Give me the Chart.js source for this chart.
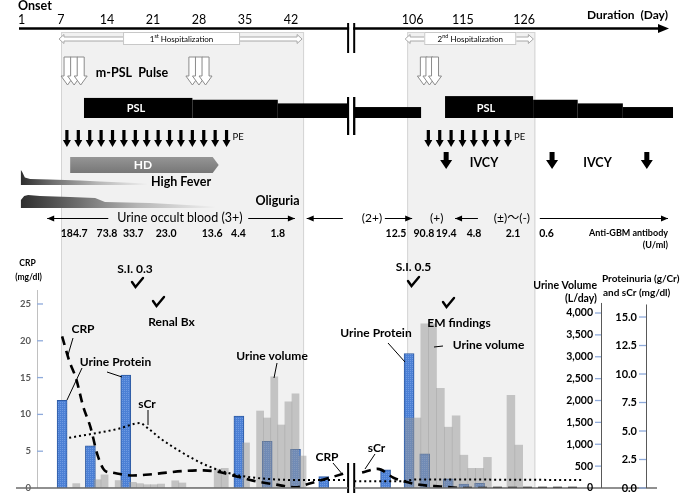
<!DOCTYPE html>
<html><head><meta charset="utf-8">
<script src="https://cdn.jsdelivr.net/npm/chart.js@4.4.1/dist/chart.umd.min.js"></script>
<style>html,body{margin:0;padding:0;background:#fff;}#wrap{width:685px;height:494px;}</style>
</head><body><div id="wrap"><canvas id="c" width="685" height="494"></canvas></div>
<script>
// ---------- top timeline (days) ----------
const timelineDays1 = [1, 7, 14, 21, 28, 35, 42];
const timelineDays2 = [106, 115, 126];
const hospitalizations = [[7, 44], [105, 128]];
const hospLabels = [['1', 'st', ' Hospitalization'], ['2', 'nd', ' Hospitalization']];
const axisBreak = [50.7, 95.5];               // last day before / first day after the break
const mpslPulseDays1 = [[8, 9, 10], [27, 28, 29]];
const mpslPulseDays2 = [[108, 109, 110]];
const pslSteps1 = [[10.5, 27, 55], [27, 40, 50], [40, 50.7, 40]];       // [from, to, dose mg]
const pslSteps2 = [[95.5, 107.5, 30], [111.8, 127.6, 60], [127.6, 135.6, 50], [135.6, 143.7, 40], [143.7, 152.7, 30]];
const peSpan1 = [7.9, 32.2], peCount1 = 15;
const peSpan2 = [108.8, 123.1], peCount2 = 8;
const ivcyDays = [112, 131, 148];
const hdSpan = [8.4, 31];
const feverDays = [0.9, 1.1, 1.5, 2.3, 5.3, 9.9, 12.9, 20.1];
const feverLevel = [15, 13, 7.5, 6, 5.5, 4.5, 3.5, 1.5];
const oliguriaDays = [0.9, 1.4, 2.0, 3.8, 8.4, 12.2, 13.7, 20.5, 30.4];
const oliguriaLevel = [8, 12, 13, 12, 11, 10, 6, 5, 1.5];
const occultTexts = [['Urine occult blood (3+)', 25.1, 1], ['(2+)', 98.7, 2], ['(+)', 110.3, 2], ['(±)〜(-)', 123.8, 2]];
const occultArrows = [[14.2, 4.9, 1], [35.5, 42.6, 1], [49.9, 44.4, 1], [101, 105.9, 2], [117.7, 113.6, 2], [128.8, 151.8, 2]];
const antiGbmDays1 = [9, 14, 18, 23, 30, 34, 40];
const antiGbm1 = [184.7, 73.8, 33.7, 23.0, 13.6, 4.4, 1.8];
const antiGbmDays2 = [103, 108, 112, 117, 124, 130];
const antiGbm2 = [12.5, 90.8, 19.4, 4.8, 2.1, 0.6];

// ---------- lower chart ----------
const urineVolDays1 = [9, 12, 13, 15, 17, 18, 19, 20, 21, 23, 24, 29, 30, 33, 35, 36, 37, 38, 39, 40, 41];
const urineVol1 = [100, 190, 300, 170, 130, 100, 75, 75, 90, 165, 115, 430, 450, 1030, 1760, 1600, 2540, 1440, 1970, 2150, 730];
const urineVolDays2 = [106, 107, 108, 109, 110, 111, 112, 113, 114, 115, 116, 119, 120];
const urineVol2 = [1600, 1600, 3750, 3750, 2280, 1390, 1650, 750, 450, 450, 700, 2120, 980];
const proteinDays1 = [7, 11, 16, 32, 36, 40, 44];
const protein1 = [7.7, 3.7, 9.9, 6.3, 4.1, 3.4, 1.0];
const proteinDays2 = [103, 106, 108, 111, 113, 115];
const protein2 = [1.6, 11.8, 3.0, 0.8, 0.35, 0.4];
const crpDays1 = [7, 8, 9, 10, 11, 12, 13, 14, 17, 20, 24, 27, 29, 32, 34, 37, 40, 42, 47];
const crp1 = [20.6, 17.3, 14.8, 11.0, 8.3, 4.5, 2.4, 2.1, 1.7, 1.9, 2.3, 2.4, 2.2, 1.5, 1.0, 0.5, 0.1, 0.6, 2.0];
const crpDays2 = [100, 102, 104, 107, 110, 113, 128];
const crp2 = [2.1, 2.6, 1.4, 0.5, 0.2, 0, 0];
const scrDays1 = [8, 15, 18, 19, 21, 24, 27, 30, 33, 36, 40, 47];
const scr1 = [4.4, 5.2, 5.7, 5.3, 4.3, 3.1, 2.1, 1.4, 1.0, 0.8, 0.7, 0.7];
const scrDays2 = [99, 105, 107, 128];
const scr2 = [0.6, 0.6, 0.75, 0.7];
const crpTicks = [0, 5, 10, 15, 20, 25];
const urineTicks = [0, 500, 1000, 1500, 2000, 2500, 3000, 3500, 4000];
const proteinTicks = [0, 2.5, 5, 7.5, 10, 12.5, 15];

const FONT = "Lato, 'Liberation Sans', 'Noto Sans CJK JP', sans-serif";
function pts(xs, ys) { return xs.map((x, i) => ({ x: x, y: ys[i] })); }
function txt(ctx, s, x, y, o) {
  o = o || {};
  ctx.save();
  ctx.font = (o.bold ? 'bold ' : '') + (o.size || 12) + 'px ' + FONT;
  ctx.fillStyle = o.color || '#000';
  ctx.textAlign = o.align || 'center';
  ctx.textBaseline = 'middle';
  ctx.fillText(s, x, y);
  ctx.restore();
}
function line(ctx, x0, y0, x1, y1, col, w) {
  ctx.save(); ctx.strokeStyle = col || '#000'; ctx.lineWidth = w || 1;
  ctx.beginPath(); ctx.moveTo(x0, y0); ctx.lineTo(x1, y1); ctx.stroke(); ctx.restore();
}
function downArrow(ctx, cx, y0, y1, sw, hw, hl, fill, stroke) {
  ctx.save(); ctx.beginPath();
  ctx.moveTo(cx - sw / 2, y0); ctx.lineTo(cx + sw / 2, y0);
  ctx.lineTo(cx + sw / 2, y1 - hl); ctx.lineTo(cx + hw / 2, y1 - hl);
  ctx.lineTo(cx, y1); ctx.lineTo(cx - hw / 2, y1 - hl);
  ctx.lineTo(cx - sw / 2, y1 - hl); ctx.closePath();
  if (fill) { ctx.fillStyle = fill; ctx.fill(); }
  if (stroke) { ctx.strokeStyle = stroke; ctx.lineWidth = 1; ctx.stroke(); }
  ctx.restore();
}
function lineArrow(ctx, x0, x1, y) {
  line(ctx, x0, y, x1, y, '#000', 1);
  const d = x1 > x0 ? 1 : -1;
  ctx.save(); ctx.fillStyle = '#000'; ctx.beginPath();
  ctx.moveTo(x1, y); ctx.lineTo(x1 - d * 7, y - 3); ctx.lineTo(x1 - d * 7, y + 3); ctx.closePath(); ctx.fill(); ctx.restore();
}
function check(ctx, x, y) {
  ctx.save(); ctx.strokeStyle = '#000'; ctx.lineWidth = 2.4; ctx.lineCap = 'round'; ctx.beginPath();
  ctx.moveTo(x - 5, y - 1); ctx.lineTo(x - 1.5, y + 4); ctx.lineTo(x + 6, y - 5); ctx.stroke(); ctx.restore();
}
function profileShape(ctx, xs, levels, bottom, c0, c1) {
  const g = ctx.createLinearGradient(xs[0], 0, xs[xs.length - 1], 0);
  g.addColorStop(0, '#2e2e2e'); g.addColorStop(c0, '#6e6e6e'); g.addColorStop(c1, '#b5b5b5'); g.addColorStop(1, '#f0f0f0');
  ctx.save(); ctx.fillStyle = g; ctx.beginPath();
  ctx.moveTo(xs[0], bottom);
  xs.forEach((x, i) => ctx.lineTo(x, bottom - levels[i]));
  ctx.lineTo(xs[xs.length - 1], bottom); ctx.closePath(); ctx.fill(); ctx.restore();
}

const canvas = document.getElementById('c');
const mctx = canvas.getContext('2d');
function makePattern() {
  const p = document.createElement('canvas'); p.width = 2; p.height = 2;
  const g = p.getContext('2d');
  g.fillStyle = '#4c80d5'; g.fillRect(0, 0, 2, 2);
  g.fillStyle = '#6e9ae2'; g.fillRect(0, 0, 1, 1);
  return mctx.createPattern(p, 'repeat');
}
const bluePattern = makePattern();

const BASE = 488;
const drawPlugin = {
  id: 'clinical',
  beforeDatasetsDraw(c) {
    const ctx = c.ctx;
    hospitalizations.forEach((h, i) => {
      const s = c.scales[i === 0 ? 'xt1' : 'xt2'];
      const a = s.getPixelForValue(h[0]), b = s.getPixelForValue(h[1]);
      ctx.save(); ctx.fillStyle = '#f1f1f1'; ctx.fillRect(a, 32, b - a, BASE - 32);
      ctx.strokeStyle = '#d4d4d4'; ctx.lineWidth = 1; ctx.strokeRect(a + 0.5, 32.5, b - a - 1, BASE - 33); ctx.restore();
    });
  },
  afterDatasetsDraw(c) {
    const ctx = c.ctx;
    const t1 = c.scales.xt1, t2 = c.scales.xt2;
    const T = (v, k) => (k === 1 ? t1 : t2).getPixelForValue(v);
    const b1 = t1.getPixelForValue(axisBreak[0]), b2 = t2.getPixelForValue(axisBreak[1]);

    // ---- top axis ----
    txt(ctx, 'Onset', 18, 6, { bold: true, size: 12.5, align: 'left' });
    line(ctx, 19, 28.5, 662, 28.5, '#000', 2.6);
    ctx.save(); ctx.fillStyle = '#000'; ctx.beginPath(); ctx.moveTo(669, 28.5); ctx.lineTo(658, 24); ctx.lineTo(658, 33); ctx.closePath(); ctx.fill(); ctx.restore();
    timelineDays1.forEach(d => txt(ctx, String(d), T(d, 1), 20, { size: 12.5 }));
    timelineDays2.forEach(d => txt(ctx, String(d), T(d, 2), 20, { size: 12.5 }));
    txt(ctx, 'Duration  (Day)', 668, 15, { bold: true, size: 12, align: 'right' });

    // ---- hospitalization arrows ----
    const boxW = [117, 92];
    hospitalizations.forEach((h, i) => {
      const k = i + 1, a = T(h[0], k) - 2, b = T(h[1], k) - 2, cy = 39;
      ctx.save(); ctx.beginPath();
      ctx.moveTo(a, cy); ctx.lineTo(a + 5, cy - 4.5); ctx.lineTo(a + 5, cy - 2); ctx.lineTo(b - 5, cy - 2);
      ctx.lineTo(b - 5, cy - 4.5); ctx.lineTo(b, cy); ctx.lineTo(b - 5, cy + 4.5); ctx.lineTo(b - 5, cy + 2);
      ctx.lineTo(a + 5, cy + 2); ctx.lineTo(a + 5, cy + 4.5); ctx.closePath();
      ctx.fillStyle = '#fff'; ctx.fill(); ctx.strokeStyle = '#a8a8a8'; ctx.lineWidth = 1; ctx.stroke();
      const mid = (a + b) / 2 + 1;
      ctx.fillStyle = '#fff'; ctx.fillRect(mid - boxW[i] / 2, 32, boxW[i], 13);
      ctx.strokeStyle = '#c8c8c8'; ctx.strokeRect(mid - boxW[i] / 2 + 0.5, 32.5, boxW[i] - 1, 12);
      ctx.restore();
      const parts = hospLabels[i];
      ctx.save(); ctx.font = '8px ' + FONT; const w0 = ctx.measureText(parts[0]).width, w2 = ctx.measureText(parts[2]).width;
      ctx.font = '5.5px ' + FONT; const w1 = ctx.measureText(parts[1]).width; ctx.restore();
      let x = mid - (w0 + w1 + w2) / 2;
      txt(ctx, parts[0], x, 39, { size: 8, align: 'left' }); x += w0;
      txt(ctx, parts[1], x, 36.5, { size: 5.5, align: 'left' }); x += w1;
      txt(ctx, parts[2], x, 39, { size: 8, align: 'left' });
    });

    // ---- break marks ----
    [[23, 53], [97, 135], [463, 493]].forEach(r => {
      ctx.save(); ctx.fillStyle = '#fff'; ctx.fillRect(b1 + 1, r[0], b2 - b1 - 2, r[1] - r[0]); ctx.restore();
      line(ctx, b1, r[0], b1, r[1], '#000', 2); line(ctx, b2, r[0], b2, r[1], '#000', 2);
    });

    // ---- m-PSL pulse ----
    mpslPulseDays1.forEach(g => g.forEach(d => downArrow(ctx, T(d, 1), 57, 85, 7, 13, 9, '#fff', '#8c8c8c')));
    mpslPulseDays2.forEach(g => g.forEach(d => downArrow(ctx, T(d, 2), 57, 85, 7, 13, 9, '#fff', '#8c8c8c')));
    txt(ctx, 'm-PSL  Pulse', 132, 73, { bold: true, size: 12.5 });

    // ---- PSL ----
    const drawPsl = (steps, k) => steps.forEach(s => {
      const a = T(s[0], k), b = T(s[1], k), hgt = s[2] * 0.365;
      ctx.save(); ctx.fillStyle = '#000'; ctx.fillRect(a, 118 - hgt, b - a, hgt); ctx.restore();
    });
    drawPsl(pslSteps1, 1); drawPsl(pslSteps2, 2);
    ctx.save(); ctx.fillStyle = '#fff'; ctx.fillRect(b1 + 1, 95, b2 - b1 - 2, 25); ctx.restore();
    line(ctx, b1, 97, b1, 135, '#000', 2); line(ctx, b2, 97, b2, 135, '#000', 2);
    txt(ctx, 'PSL', 136, 108.5, { bold: true, size: 11, color: '#fff' });
    txt(ctx, 'PSL', 486, 108.5, { bold: true, size: 11, color: '#fff' });

    // ---- PE ----
    const drawPe = (span, n, k) => {
      for (let i = 0; i < n; i++) {
        const d = span[0] + (span[1] - span[0]) * i / (n - 1);
        downArrow(ctx, T(d, k), 130, 147, 3.2, 8, 7, '#000');
      }
      txt(ctx, 'PE', T(span[1], k) + 6, 137, { size: 9.5, align: 'left' });
    };
    drawPe(peSpan1, peCount1, 1); drawPe(peSpan2, peCount2, 2);

    // ---- IVCY ----
    ivcyDays.forEach(d => downArrow(ctx, T(d, 2), 152, 169, 5, 12, 9, '#000'));
    txt(ctx, 'IVCY', 484, 163, { bold: true, size: 12.5 });
    txt(ctx, 'IVCY', 597.5, 163, { bold: true, size: 12.5 });

    // ---- HD ----
    const ha = T(hdSpan[0], 1), hb = T(hdSpan[1], 1);
    ctx.save(); const hg = ctx.createLinearGradient(0, 157, 0, 173); hg.addColorStop(0, '#959595'); hg.addColorStop(1, '#777');
    ctx.fillStyle = hg; ctx.beginPath(); ctx.moveTo(ha, 157); ctx.lineTo(hb - 6, 157); ctx.lineTo(hb, 165); ctx.lineTo(hb - 6, 173); ctx.lineTo(ha, 173); ctx.closePath(); ctx.fill(); ctx.restore();
    txt(ctx, 'HD', 143, 165.5, { bold: true, size: 12, color: '#fff' });

    // ---- High fever / Oliguria ----
    profileShape(ctx, feverDays.map(d => T(d, 1)), feverLevel, 185, 0.25, 0.6);
    txt(ctx, 'High Fever', 181, 181.5, { bold: true, size: 12.5 });
    profileShape(ctx, oliguriaDays.map(d => T(d, 1)), oliguriaLevel, 208, 0.3, 0.6);
    txt(ctx, 'Oliguria', 277.5, 201, { bold: true, size: 12.5 });

    // ---- urine occult blood ----
    occultTexts.forEach(o => txt(ctx, o[0], T(o[1], o[2]), 218, { size: o[2] === 1 ? 12.5 : 12 }));
    occultArrows.forEach(a => lineArrow(ctx, T(a[0], a[2]), T(a[1], a[2]), 218.5));

    // ---- anti-GBM ----
    antiGbmDays1.forEach((d, i) => txt(ctx, antiGbm1[i].toFixed(1), T(d, 1), 233.5, { bold: true, size: 10.5 }));
    antiGbmDays2.forEach((d, i) => txt(ctx, antiGbm2[i].toFixed(1), T(d, 2), 233.5, { bold: true, size: 10.5 }));
    txt(ctx, 'Anti-GBM antibody', 668, 233, { bold: true, size: 9, align: 'right' });
    txt(ctx, '(U/ml)', 668, 245, { bold: true, size: 9, align: 'right' });

    // ---- lower axes ----
    const yc = c.scales.yCRP, yu = c.scales.yUV, yp = c.scales.yP;
    const L = c.chartArea.left, R = c.chartArea.right;
    line(ctx, L + 0.5, c.chartArea.top, L + 0.5, BASE, '#c0c0c0', 1);
    crpTicks.forEach(t => {
      const y = yc.getPixelForValue(t);
      if (t > 0) line(ctx, L, y, L + 6, y, '#8eaadb', 1.3);
      txt(ctx, String(t), L - 6, y, { bold: true, size: 9.5, color: '#595959', align: 'right' });
    });
    txt(ctx, 'CRP', 27.5, 263, { bold: true, size: 8.5 });
    txt(ctx, '(mg/dl)', 28.5, 277, { bold: true, size: 8.5 });
    line(ctx, 16, BASE, b1, BASE, '#6b6b6b', 1.3);
    line(ctx, b2, BASE, 657, BASE, '#6b6b6b', 1.3);

    line(ctx, R + 0.5, yu.getPixelForValue(4230), R + 0.5, BASE, '#595959', 1);
    urineTicks.forEach(t => {
      const y = yu.getPixelForValue(t);
      if (t > 0) line(ctx, R - 6, y, R, y, '#8eaadb', 1.3);
      txt(ctx, t.toLocaleString('en-US'), R - 8, y, { bold: true, size: 10.5, align: 'right' });
    });
    txt(ctx, 'Urine Volume', 597, 286, { bold: true, size: 10.5, align: 'right' });
    txt(ctx, '(L/day)', 597, 299, { bold: true, size: 10.5, align: 'right' });

    const PX = 646;
    line(ctx, PX + 0.5, yp.getPixelForValue(16.1), PX + 0.5, BASE, '#595959', 1);
    proteinTicks.forEach(t => {
      const y = yp.getPixelForValue(t);
      line(ctx, PX - 7, y, PX, y, '#8eaadb', 1.3);
      txt(ctx, t.toFixed(1), PX - 9, y, { bold: true, size: 11, align: 'right' });
    });
    txt(ctx, 'Proteinuria (g/Cr)', 602, 279, { bold: true, size: 10, align: 'left' });
    txt(ctx, 'and sCr (mg/dl)', 603, 293, { bold: true, size: 10, align: 'left' });

    // ---- lower annotations ----
    const B = { bold: true, size: 12 };
    txt(ctx, 'CRP', 83, 329, B); line(ctx, 73, 338, 68, 355);
    txt(ctx, 'Urine Protein', 115.5, 362, B); line(ctx, 82, 368, 67, 400); line(ctx, 107, 372, 122, 377);
    txt(ctx, 'sCr', 147, 404, B); line(ctx, 148, 410, 148, 425);
    txt(ctx, 'S.I. 0.3', 135, 269, B); check(ctx, 137, 283);
    check(ctx, 158, 302); txt(ctx, 'Renal Bx', 171.5, 322, B);
    txt(ctx, 'Urine volume', 272, 356, B); line(ctx, 277, 363, 274, 378);
    txt(ctx, 'CRP', 327, 457, B); line(ctx, 333, 463, 343, 475);
    txt(ctx, 'S.I. 0.5', 413.5, 267, B); check(ctx, 413, 282);
    check(ctx, 448, 303); txt(ctx, 'EM findings', 459, 323, B);
    txt(ctx, 'Urine Protein', 376, 333, B); line(ctx, 388, 343, 405, 362);
    txt(ctx, 'Urine volume', 488.5, 345, B); line(ctx, 434, 347, 443, 346);
    txt(ctx, 'sCr', 376.5, 448, B); line(ctx, 375, 454, 365, 469);
  }
};

const lineDs = (days, vals, xid, yid, dash, w) => ({
  type: 'line', xAxisID: xid, yAxisID: yid, data: pts(days, vals), borderColor: '#000', borderWidth: w,
  borderDash: dash, pointRadius: 0, fill: false, cubicInterpolationMode: 'monotone', order: 1
});
const uvDs = (days, vals, xid) => ({
  type: 'bar', xAxisID: xid, yAxisID: 'yUV', data: pts(days, vals), backgroundColor: 'rgba(150,150,150,0.5)',
  barPercentage: 1, categoryPercentage: 1, grouped: false, order: 2
});
const prDs = (days, vals, xid) => ({
  type: 'bar', xAxisID: xid, yAxisID: 'yP', data: pts(days, vals), backgroundColor: bluePattern,
  borderColor: '#2d5aa3', borderWidth: 1, barThickness: 10, grouped: false, order: 3
});
const xScale = (min, max) => ({ type: 'linear', axis: 'x', display: false, offset: false, min: min, max: max, grid: { offset: false } });

new Chart(canvas, {
  type: 'bar',
  data: {
    datasets: [
      lineDs(crpDays1, crp1, 'x1', 'yCRP', [9, 6], 2.6),
      lineDs(crpDays2, crp2, 'x2', 'yCRP', [9, 6], 2.6),
      lineDs(scrDays1, scr1, 'x1', 'yP', [2, 3], 2),
      lineDs(scrDays2, scr2, 'x2', 'yP', [2, 3], 2),
      uvDs(urineVolDays1, urineVol1, 'x1'),
      uvDs(urineVolDays2, urineVol2, 'x2'),
      prDs(proteinDays1, protein1, 'x1'),
      prDs(proteinDays2, protein2, 'x2')
    ]
  },
  options: {
    responsive: false, animation: false, devicePixelRatio: 1,
    layout: { padding: { left: 37, right: 84, top: 290, bottom: 6 } },
    plugins: { legend: { display: false }, tooltip: { enabled: false } },
    scales: {
      x1: xScale(3.45, 83.2),
      x2: xScale(58.5, 130.5),
      xt1: xScale(3.349, 89.19),
      xt2: xScale(38.59, 139.78),
      yCRP: { type: 'linear', axis: 'y', display: false, min: 0, max: 26.9 },
      yUV: { type: 'linear', axis: 'y', display: false, min: 0, max: 4526 },
      yP: { type: 'linear', axis: 'y', display: false, min: 0, max: 17.37 }
    }
  },
  plugins: [drawPlugin]
});
</script></body></html>
